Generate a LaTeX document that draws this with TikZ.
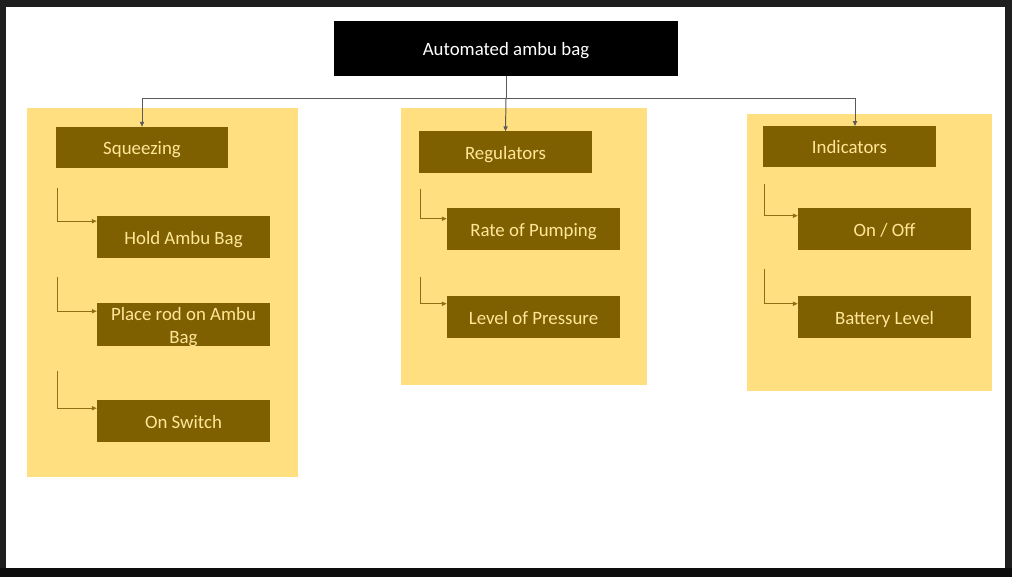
\documentclass[tikz,border=0pt]{standalone}
\usepackage{fontspec}
\setmainfont{Carlito}
\usetikzlibrary{arrows.meta,calc}
\definecolor{frame}{HTML}{1E1E1E}
\definecolor{panel}{HTML}{FFDF80}
\definecolor{bark}{HTML}{7F6000}
\definecolor{label}{HTML}{FFE699}
\definecolor{wire}{HTML}{5A5A5A}
\definecolor{twig}{HTML}{8F6E14}
\tikzset{
  task/.style={fill=bark, text=label, minimum width=4.325cm, minimum height=1.025cm,
    inner sep=0pt, align=center, text height=10.6pt, text depth=0pt,
    font=\fontsize{13.4}{16}\selectfont},
  head/.style={fill=black, text=white, minimum width=8.6cm, minimum height=1.375cm,
    inner sep=0pt, text height=10.6pt, text depth=0pt, font=\fontsize{13.4}{16}\selectfont},
  wirelink/.style={draw=wire, line width=0.7pt},
  twiglink/.style={draw=twig, line width=0.7pt, -{Triangle[length=3.5pt,width=3pt]}},
}
\begin{document}
\begin{tikzpicture}[x=0.025cm, y=-0.025cm]
      % frame and canvas
      \fill[frame] (0,0) rectangle (1012,577);
      \fill[black!95] (0,568) rectangle (1012,577);
      \fill[white] (6,7) rectangle (1005,568);
      \useasboundingbox (0,0) rectangle (1012,577);
      % panels
      \fill[panel] (27,108) rectangle (298,477);
      \fill[panel] (401,108) rectangle (647,385);
      \fill[panel] (747,114) rectangle (992,391);
      % boxes
      \node[head] (top) at (506,48.5) {Automated ambu bag};
      \node[task, minimum width=4.3cm] (squeeze) at (142,147.5) {Squeezing};
      \node[task] (hold) at (183.5,237) {Hold Ambu Bag};
      \node[task, minimum height=1.05cm, text height=26.6pt] (rod) at (183.5,324.5) {Place rod on Ambu\\Bag};
      \node[task] (switch) at (183.5,421) {On Switch};
      \node[task] (regul) at (505.5,152) {Regulators};
      \node[task, minimum height=1.05cm] (rate) at (533.5,229) {Rate of Pumping};
      \node[task, minimum height=1.05cm] (press) at (533.5,317) {Level of Pressure};
      \node[task] (indic) at (849.5,146.5) {Indicators};
      \node[task, minimum height=1.05cm] (onoff) at (884.5,229) {On / Off};
      \node[task, minimum height=1.05cm] (batt) at (884.5,317) {Battery Level};
      % top connectors
      \coordinate (bus) at (506,98);
      \coordinate (indtop) at (855,126);
      \begin{scope}[-{Triangle[length=3.5pt,width=3pt]}]
        \draw[wirelink,-] (top.south) -- (bus);
        \draw[wirelink] (bus) -| (squeeze.north);
        \draw[wirelink] (bus) -- (regul.north);
        \draw[wirelink] (bus) -| (indtop);
      \end{scope}
      % branch connectors
      \coordinate (s1) at (57,188);
      \coordinate (s2) at (57,277);
      \coordinate (s3) at (57,371);
      \coordinate (r1) at (420,189);
      \coordinate (r2) at (420,277);
      \coordinate (i1) at (764,184);
      \coordinate (i2) at (764,269);
      \draw[twiglink] (s1) |- ($(hold.north west)+(0,5)$);
      \draw[twiglink] (s2) |- ($(rod.north west)+(0,8)$);
      \draw[twiglink] (s3) |- ($(switch.north west)+(0,8)$);
      \draw[twiglink] (r1) |- ($(rate.north west)+(0,11)$);
      \draw[twiglink] (r2) |- ($(press.north west)+(0,8)$);
      \draw[twiglink] (i1) |- ($(onoff.north west)+(0,8)$);
      \draw[twiglink] (i2) |- ($(batt.north west)+(0,8)$);
    \end{tikzpicture}
\end{document}
